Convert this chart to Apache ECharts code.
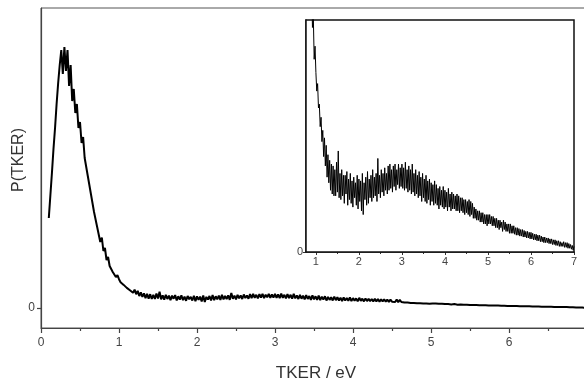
<!DOCTYPE html>
<html><head><meta charset="utf-8">
<script src="https://cdn.jsdelivr.net/npm/echarts@6/dist/echarts.min.js"></script>
<style>html,body{margin:0;padding:0;background:#fff}#c{width:584px;height:381px}</style>
</head><body><div id="c"></div><script>
// TKER sampling grid (eV)
const xStart = 0.10, xStep = 0.02;
// P(TKER), arbitrary units, 0.10 .. 0.98 eV
const yPeak = [30,37.5,45,53,60,68,75,81,86,78,87,79,86,74,81,69,73,65,68,60,62,55,57,50,50,44,44,38,38,32,32,27,27.5,22,23.5,19,20,16,17,14,14.5,12,12.6,10.3,11];
// 1.00 .. 2.98 eV
const yTail1 = [
9.6,8.6,9.0,7.7,7.9,6.7,7.2,5.9,6.5,5.1,
6.1,4.6,5.7,4.0,5.2,3.7,4.9,3.3,4.7,3.1,
4.6,3.0,4.4,3.0,4.8,3.2,5.4,2.9,4.2,2.8,
4.4,3.0,4.1,2.6,4.1,3.1,4.3,2.5,3.9,2.8,
4.2,2.6,3.8,2.4,4.0,2.9,3.7,2.5,4.1,2.3,
3.9,2.7,3.8,2.2,4.2,2.0,3.7,2.8,4.0,2.5,
4.3,2.6,3.9,2.9,4.1,2.7,4.4,2.9,4.0,3.0,
4.2,2.7,5.0,3.1,4.1,2.9,4.4,3.2,4.2,3.0,
4.5,3.3,4.2,3.1,4.6,3.3,4.7,3.4,4.4,3.2,
4.6,3.5,4.7,3.3,4.4,3.6,4.7,3.4,4.5,3.5];
// 3.00 .. 4.98 eV
const yTail2 = [
4.7,3.4,4.5,3.3,4.8,3.4,4.4,3.2,4.6,3.3,
4.4,3.1,4.7,3.2,4.2,3.0,4.4,3.1,4.1,2.9,
4.3,3.0,4.0,2.7,4.2,2.9,3.9,2.7,4.1,2.6,
3.8,2.8,3.9,2.5,3.7,2.7,3.6,2.5,3.8,2.6,
3.6,2.5,3.4,2.3,3.5,2.5,3.3,2.4,3.5,2.3,
3.3,2.4,3.2,2.2,3.4,2.4,3.1,2.2,3.2,2.3,
3.1,2.3,3.0,2.2,3.1,2.2,3.0,2.1,2.9,2.2,
2.9,2.1,2.8,2.0,2.8,2.1,2.7,2.0,2.8,1.9,
2.7,2.0,2.6,1.8,2.4,1.8,2.3,1.7,2.2,1.7,
2.2,1.6,2.1,1.6,2.1,1.5,2.0,1.5,2.0,1.4];
// 5.00 .. 7.00 eV
const yTail3 = [
2.0,1.5,2.0,1.5,1.9,1.4,1.9,1.4,1.8,1.3,
1.8,1.3,1.7,1.2,1.7,1.3,1.6,1.1,1.7,1.2,
1.6,1.1,1.5,1.1,1.5,1.0,1.5,1.0,1.4,1.0,
1.4,0.95,1.3,0.9,1.3,0.9,1.25,0.85,1.2,0.85,
1.2,0.8,1.15,0.8,1.1,0.75,1.1,0.75,1.05,0.7,
1.05,0.7,1.0,0.65,0.95,0.65,0.95,0.6,0.9,0.6,
0.9,0.55,0.85,0.55,0.8,0.5,0.8,0.5,0.75,0.5,
0.75,0.45,0.7,0.45,0.7,0.4,0.65,0.4,0.65,0.35,
0.6,0.35,0.6,0.3,0.55,0.3,0.5,0.3,0.55,0.25,
0.5,0.25,0.5,0.2,0.45,0.2,0.4,0.15,0.35,0.1,
0.3];
const insetMajorTicks = [1,2,3,4,5,6,7];
const insetMinorTicks = [1.5,2.5,3.5,4.5,5.5,6.5];
const yTicks = [0];

const ys = yPeak.concat(yTail1, yTail2, yTail3);
const pts = ys.map((y, i) => [+(xStart + i * xStep).toFixed(2), y]);

const FONT = 'Liberation Sans, Arial, sans-serif';
const axisCol = '#444';
const chart = echarts.init(document.getElementById('c'), null, {renderer: 'canvas'});
chart.setOption({
  animation: false,
  backgroundColor: '#fff',
  textStyle: {fontFamily: FONT},
  grid: [
    {left: 41, right: -3, top: 8, bottom: 53, show: true, borderColor: '#555', borderWidth: 1,
     backgroundColor: 'transparent', containLabel: false, outerBoundsMode: 'none'},
    {left: 306, right: 10, top: 20, bottom: 129, show: true, borderColor: '#111', borderWidth: 1.5,
     backgroundColor: '#fff', z: 5, containLabel: false, outerBoundsMode: 'none'}
  ],
  xAxis: [
    {gridIndex: 0, type: 'value', min: 0, max: 7, interval: 1,
     axisLine: {show: true, onZero: false, lineStyle: {color: axisCol, width: 1.2}},
     axisTick: {show: true, length: 5, lineStyle: {color: axisCol, width: 1.2}},
     minorTick: {show: true, splitNumber: 2, length: 3, lineStyle: {color: axisCol, width: 1.2}},
     splitLine: {show: false},
     axisLabel: {fontSize: 12, color: '#444', margin: 9, fontFamily: FONT},
     name: 'TKER / eV', nameLocation: 'middle', nameGap: 37,
     nameTextStyle: {fontSize: 17, color: '#333', fontFamily: FONT, padding: [0, 0, 0, 4]}},
    {gridIndex: 1, type: 'value', min: 0.77, max: 7,
     axisLine: {show: true, onZero: false, lineStyle: {color: '#111', width: 1.5}},
     axisTick: {show: true, length: 3, customValues: insetMajorTicks, lineStyle: {color: '#333'}},
     splitLine: {show: false},
     axisLabel: {fontSize: 11, color: '#444', margin: 4, customValues: insetMajorTicks, fontFamily: FONT}},
    {gridIndex: 1, type: 'value', min: 0.77, max: 7, position: 'bottom',
     axisLine: {show: false, onZero: false},
     axisTick: {show: true, length: 2, customValues: insetMinorTicks, lineStyle: {color: '#333'}},
     splitLine: {show: false},
     axisLabel: {show: false}}
  ],
  yAxis: [
    {gridIndex: 0, type: 'value', min: -20 / 3, max: 100,
     axisLine: {show: true, onZero: false, lineStyle: {color: axisCol, width: 1.2}},
     axisTick: {show: true, length: 4, customValues: yTicks, lineStyle: {color: axisCol, width: 1.2}},
     splitLine: {show: false},
     axisLabel: {fontSize: 12, color: '#444', margin: 6, customValues: yTicks, fontFamily: FONT},
     name: 'P(TKER)', nameLocation: 'middle', nameGap: 14, nameMoveOverlap: false,
     nameTextStyle: {fontSize: 16, color: '#333', fontFamily: FONT, padding: [0, 0, 0, 16]}},
    {gridIndex: 1, type: 'value', min: 0, max: 12.4,
     axisLine: {show: true, onZero: false, lineStyle: {color: '#111', width: 1.5}},
     axisTick: {show: true, length: 3, customValues: yTicks, lineStyle: {color: '#333'}},
     splitLine: {show: false},
     axisLabel: {fontSize: 11, color: '#444', margin: 3, customValues: yTicks, fontFamily: FONT}}
  ],
  series: [
    {type: 'line', xAxisIndex: 0, yAxisIndex: 0, data: pts, showSymbol: false, symbol: 'none',
     lineStyle: {color: '#000', width: 2}, clip: true, z: 2},
    {type: 'line', xAxisIndex: 1, yAxisIndex: 1, data: pts, showSymbol: false, symbol: 'none',
     lineStyle: {color: '#000', width: 1}, clip: true, z: 6}
  ]
});
</script></body></html>
